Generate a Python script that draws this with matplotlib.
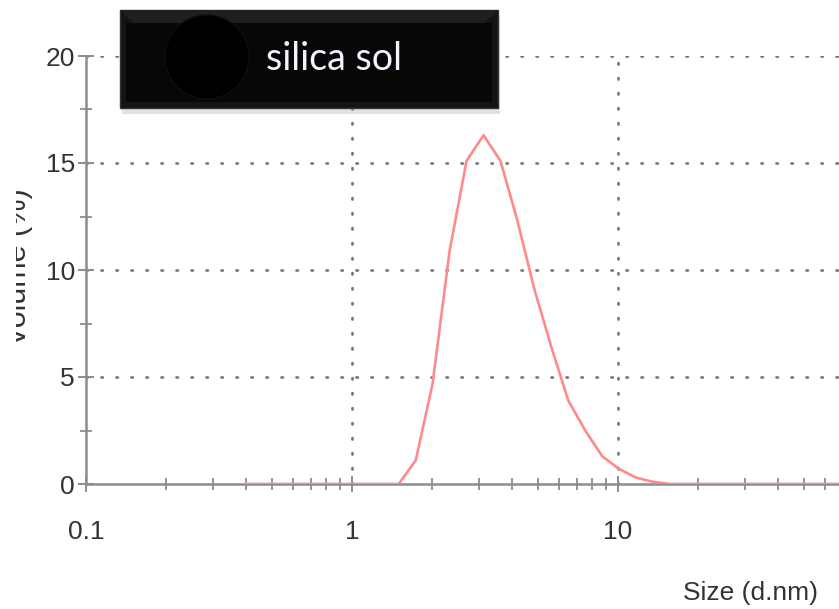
import matplotlib
matplotlib.use('Agg')
import matplotlib.pyplot as plt
from matplotlib.patches import Rectangle, Circle, Polygon
from matplotlib.ticker import FixedLocator, LogLocator, NullFormatter

# size bins (d.nm) and volume distribution (%)
sizes = [0.4000, 0.4632, 0.5365, 0.6213, 0.7195, 0.8332, 0.9649, 1.117, 1.294,
         1.499, 1.736, 2.010, 2.328, 2.696, 3.122, 3.615, 4.187, 4.849, 5.615,
         6.503, 7.531, 8.721, 10.10, 11.70, 13.54, 15.69, 18.17, 21.04, 24.36,
         28.21, 32.67, 37.84, 43.82, 50.75, 58.77, 68.06, 78.82]
volume = [0, 0, 0, 0, 0, 0, 0, 0, 0,
          0, 1.1, 4.7, 10.9, 15.1, 16.3, 15.1, 12.3, 9.1, 6.4,
          3.9, 2.5, 1.3, 0.7, 0.3, 0.1, 0, 0, 0, 0,
          0, 0, 0, 0, 0, 0, 0, 0]

x_ticks = [0.1, 1, 10]
x_ticklabels = ['0.1', '1', '10']
y_ticks = [0, 5, 10, 15, 20]

W, H = 839, 609
fig = plt.figure(figsize=(W / 100, H / 100), dpi=100)
plt.rcParams['font.family'] = ['Liberation Sans', 'DejaVu Sans']

# pixel -> figure fraction helpers
def fx(px):
    return px / W

def fy(py):
    return (H - py) / H

ax = fig.add_axes([fx(86), fy(484), (W - 86) / W, (484 - 56) / H])
ax.set_xscale('log')
ax.set_xlim(0.1, 10 ** (1 + 221 / 266))
ax.set_ylim(0, 20)

axis_grey = '#8c8c8c'
for side in ['top', 'right']:
    ax.spines[side].set_visible(False)
for side in ['left', 'bottom']:
    ax.spines[side].set_color(axis_grey)
    ax.spines[side].set_linewidth(1.8)

ax.xaxis.set_major_locator(FixedLocator(x_ticks))
ax.set_xticklabels(x_ticklabels)
ax.xaxis.set_minor_locator(LogLocator(base=10, subs=range(2, 10)))
ax.xaxis.set_minor_formatter(NullFormatter())
ax.yaxis.set_major_locator(FixedLocator(y_ticks))
ax.yaxis.set_minor_locator(FixedLocator([2.5, 7.5, 12.5, 17.5]))

ax.tick_params(which='major', direction='inout', length=12, width=1.4,
               color=axis_grey, labelsize=19, labelcolor='#333333')
ax.tick_params(which='minor', direction='inout', length=9, width=1.3,
               color=axis_grey)
ax.tick_params(axis='x', which='major', pad=20)
ax.tick_params(axis='y', which='major', pad=2)

# dotted grid
dots = dict(color='#7a7a7a', lw=2.0, linestyle=(0, (0.5, 4.9)),
            dash_capstyle='round', zorder=1)
for yv in y_ticks[1:]:
    ax.axhline(yv, **dots)
for xv in [1, 10]:
    ax.axvline(xv, **dots)

ax.plot(sizes, volume, color='#ff8a8a', lw=1.9, zorder=4)

# axis titles
fig.text(fx(818), fy(600), 'Size (d.nm)', ha='right', va='baseline',
         fontsize=19, color='#333333')
fig.text(fx(26), fy(267), 'Volume (%)', rotation=90,
         rotation_mode='anchor', ha='center', va='baseline',
         fontsize=22, color='#333333', zorder=3)
# left edge of the y title is cut off
fig.patches.append(Rectangle((0, 0), fx(16), 1, transform=fig.transFigure,
                             facecolor='white', edgecolor='none', zorder=4))

# title banner: shadow, bevelled frame, inner face, dark disc, label
x0, x1, y0, y1 = 120, 498, 10, 108
fig.patches.append(Rectangle((fx(x0 + 2), fy(y1 + 6)), fx(x1 - x0), (y1 - y0) / H,
                             transform=fig.transFigure, facecolor='#a0a0a0',
                             edgecolor='none', alpha=0.3, zorder=5))
fig.patches.append(Rectangle((fx(x0), fy(y1)), fx(x1 - x0), (y1 - y0) / H,
                             transform=fig.transFigure, facecolor='#141414',
                             edgecolor='#333333', lw=1.0, zorder=6))
fig.patches.append(Polygon([(fx(x0), fy(y0)), (fx(x1), fy(y0)),
                            (fx(x1 - 14), fy(y0 + 13)), (fx(x0 + 14), fy(y0 + 13))],
                           closed=True, transform=fig.transFigure,
                           facecolor='#1f1f1f', edgecolor='none', zorder=6.5))
fig.patches.append(Rectangle((fx(x0 + 6), fy(y1 - 6)), fx(x1 - x0 - 12),
                             (y1 - y0 - 19) / H, transform=fig.transFigure,
                             facecolor='#070707', edgecolor='none', zorder=7))
fig.patches.append(Circle((207 / 100, (H - 57) / 100), 0.42,
                          transform=fig.dpi_scale_trans, facecolor='#000000',
                          edgecolor='#0e0e0e', lw=1, zorder=8))
fig.text(fx(334), fy(70), 'silica sol', ha='center', va='baseline',
         fontsize=27, color='#f2f5ff', family=['Lato', 'DejaVu Sans'], zorder=9)

fig.savefig('out.png', dpi=100)
